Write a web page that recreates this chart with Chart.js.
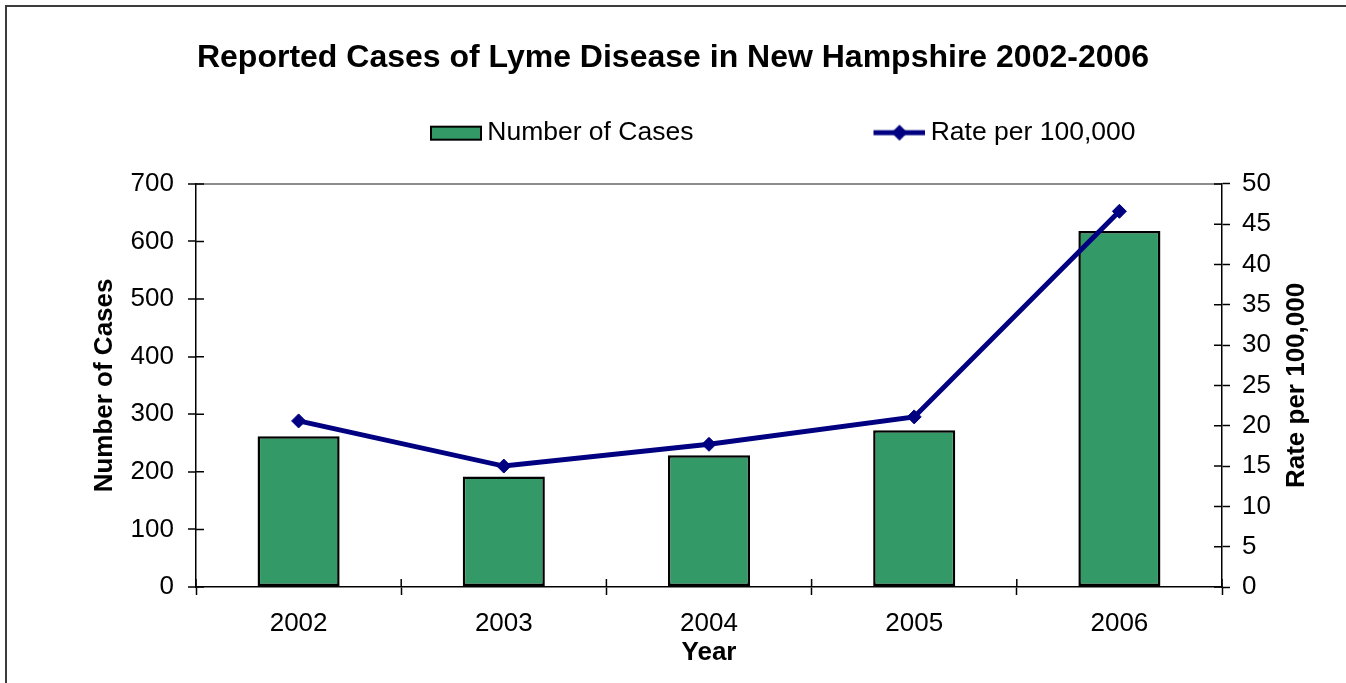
<!DOCTYPE html>
<html lang="en">
<head>
<meta charset="utf-8">
<title>Reported Cases of Lyme Disease in New Hampshire 2002-2006</title>
<script src="https://cdn.jsdelivr.net/npm/chart.js@4.4.0/dist/chart.umd.min.js"></script>
<style>
  html, body { margin: 0; padding: 0; background: #fff; overflow: hidden; }
  #contenedor { position: relative; width: 1346px; height: 683px; }
  /* marco exterior: solo se ven el borde izquierdo y el de arriba */
  #marco { position: absolute; left: 5px; top: 5px; width: 1500px; height: 800px;
           border-left: 2px solid #3c3c3c; border-top: 2px solid #3c3c3c; pointer-events: none; }
</style>
</head>
<body>
<div id="contenedor">
  <canvas id="grafico" width="1346" height="683"></canvas>
  <div id="marco"></div>
</div>
<script>
// Datos
const anios = ["2002", "2003", "2004", "2005", "2006"];
const numeroCasos = [262, 192, 229, 272, 618];
const tasaPor100k = [20.6, 15.0, 17.7, 21.1, 46.6];

// Ejes
const maxCasos = 700, pasoCasos = 100;
const maxTasa = 50, pasoTasa = 5;

// Textos
const titulo = "Reported Cases of Lyme Disease in New Hampshire 2002-2006";
const etiquetaCasos = "Number of Cases";
const etiquetaTasa = "Rate per 100,000";
const etiquetaAnio = "Year";

// Colores
const verde = "rgb(51, 153, 102)";
const azul = "rgb(0, 0, 128)";
const fuente = "'Liberation Sans', Arial, Helvetica, sans-serif";

Chart.defaults.font.family = fuente;
Chart.defaults.color = "#000";

// Marcadores de la leyenda (parte izquierda vacia para separar los items)
function crearMarcador(dibujar) {
    const c = document.createElement("canvas");
    c.width = 230;
    c.height = 20;
    dibujar(c.getContext("2d"));
    return c;
}
const marcadorBarra = crearMarcador(ctx => {
    ctx.fillStyle = verde;
    ctx.fillRect(179, 4, 50, 13);
    ctx.strokeStyle = "#000";
    ctx.lineWidth = 2;
    ctx.strokeRect(179, 4, 50, 13);
});
const marcadorLinea = crearMarcador(ctx => {
    ctx.strokeStyle = azul;
    ctx.lineWidth = 5;
    ctx.beginPath();
    ctx.moveTo(178, 10);
    ctx.lineTo(230, 10);
    ctx.stroke();
    ctx.fillStyle = azul;
    ctx.beginPath();
    ctx.moveTo(196, 10); ctx.lineTo(204, 2); ctx.lineTo(212, 10); ctx.lineTo(204, 18);
    ctx.closePath();
    ctx.fill();
});
const marcadores = [marcadorBarra, marcadorLinea];

// Mueve la leyenda a su sitio horizontal
const posicionLeyenda = {
    id: "posicionLeyenda",
    afterLayout(chart) {
        chart.legend.left = 250;
    }
};

// Mitad interior de las marcas de los ejes
const marcasInternas = {
    id: "marcasInternas",
    afterDatasetsDraw(chart) {
        const { ctx, chartArea } = chart;
        const { x, y, y1 } = chart.scales;
        ctx.save();
        ctx.strokeStyle = "#000";
        ctx.lineWidth = 1.5;
        ctx.beginPath();
        y.ticks.forEach((t, i) => {
            const p = y.getPixelForTick(i);
            ctx.moveTo(chartArea.left, p);
            ctx.lineTo(chartArea.left + 8, p);
        });
        y1.ticks.forEach((t, i) => {
            const p = y1.getPixelForTick(i);
            ctx.moveTo(chartArea.right - 8, p);
            ctx.lineTo(chartArea.right, p);
        });
        const n = x.ticks.length;
        for (let i = 0; i <= n; i++) {
            let p;
            if (i === 0) p = chartArea.left;
            else if (i === n) p = chartArea.right;
            else p = (x.getPixelForTick(i - 1) + x.getPixelForTick(i)) / 2;
            ctx.moveTo(p, chartArea.bottom);
            ctx.lineTo(p, chartArea.bottom - 8);
        }
        ctx.stroke();
        ctx.restore();
    }
};

// Titulo del eje derecho (leido de abajo hacia arriba)
const tituloDerecho = {
    id: "tituloDerecho",
    afterDraw(chart) {
        const { ctx, chartArea } = chart;
        const escala = chart.scales.y1;
        ctx.save();
        ctx.translate(escala.right - 49, (chartArea.top + chartArea.bottom) / 2);
        ctx.rotate(-Math.PI / 2);
        ctx.font = "bold 26px " + fuente;
        ctx.fillStyle = "#000";
        ctx.textAlign = "center";
        ctx.textBaseline = "middle";
        ctx.fillText(etiquetaTasa, 0, 0);
        ctx.restore();
    }
};

const borde = { display: true, color: "#000", width: 1.5 };

new Chart(document.getElementById("grafico"), {
    type: "bar",
    data: {
        labels: anios,
        datasets: [
            {
                label: etiquetaCasos,
                data: numeroCasos,
                yAxisID: "y",
                backgroundColor: verde,
                borderColor: "#000",
                borderWidth: 2.5,
                borderSkipped: false,
                categoryPercentage: 1,
                barPercentage: 0.4,
                order: 1
            },
            {
                type: "line",
                label: etiquetaTasa,
                data: tasaPor100k,
                yAxisID: "y1",
                borderColor: azul,
                backgroundColor: azul,
                borderWidth: 5,
                pointStyle: "rectRot",
                pointRadius: 7,
                pointBorderWidth: 1,
                pointBackgroundColor: azul,
                pointBorderColor: azul,
                tension: 0,
                order: 0
            }
        ]
    },
    options: {
        responsive: false,
        animation: false,
        devicePixelRatio: 1,
        layout: { padding: 0 },
        plugins: {
            title: {
                display: true,
                text: titulo,
                color: "#000",
                font: { size: 32, weight: "bold" },
                padding: { top: 39, bottom: 32 }
            },
            // espacio vacio entre la leyenda y el area del grafico
            subtitle: {
                display: true,
                text: "",
                weight: 500,
                font: { size: 10 },
                padding: { top: 16, bottom: 0 }
            },
            legend: {
                display: true,
                position: "top",
                align: "start",
                labels: {
                    usePointStyle: true,
                    pointStyleWidth: 214,
                    padding: 10,
                    color: "#000",
                    font: { size: 26.5 },
                    generateLabels(chart) {
                        return chart.data.datasets.map((ds, i) => ({
                            text: ds.label,
                            datasetIndex: i,
                            pointStyle: marcadores[i],
                            fontColor: "#000",
                            fillStyle: "transparent",
                            strokeStyle: "transparent",
                            lineWidth: 0,
                            hidden: false
                        }));
                    }
                }
            },
            tooltip: { enabled: false }
        },
        scales: {
            x: {
                grid: { display: true, drawOnChartArea: false, offset: true, tickLength: 8, tickColor: "#000", tickWidth: 1.5 },
                border: borde,
                ticks: { color: "#000", font: { size: 26 }, padding: 13, maxRotation: 0 },
                title: { display: true, text: etiquetaAnio, color: "#000", font: { size: 26, weight: "bold" }, padding: { top: 0, bottom: 15 } },
                afterFit(s) { s.height = 96; }
            },
            y: {
                position: "left",
                min: 0,
                max: maxCasos,
                ticks: { stepSize: pasoCasos, color: "#000", font: { size: 26 }, padding: 14 },
                grid: {
                    color: ctx => (ctx.tick && ctx.tick.value === maxCasos ? "#8c8c8c" : "transparent"),
                    lineWidth: 2,
                    tickLength: 8,
                    tickColor: "#000",
                    tickWidth: 1.5
                },
                border: borde,
                title: { display: true, text: etiquetaCasos, color: "#000", font: { size: 26, weight: "bold" }, padding: { top: 89, bottom: 0 } },
                afterFit(s) { s.width = 196; }
            },
            y1: {
                position: "right",
                min: 0,
                max: maxTasa,
                ticks: { stepSize: pasoTasa, color: "#000", font: { size: 26 }, padding: 12 },
                grid: { drawOnChartArea: false, tickLength: 8, tickColor: "#000", tickWidth: 1.5 },
                border: borde,
                title: { display: false },
                afterFit(s) { s.width = 124; }
            }
        }
    },
    plugins: [posicionLeyenda, marcasInternas, tituloDerecho]
});
</script>
</body>
</html>
